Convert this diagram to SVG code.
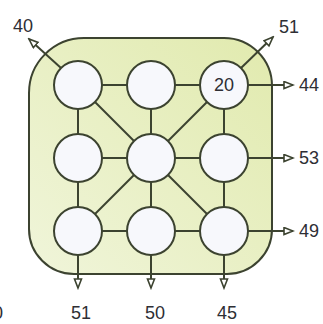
<svg xmlns="http://www.w3.org/2000/svg" width="323" height="324" viewBox="0 0 323 324">
  <style>
    .edge { stroke: #3c4330; stroke-width: 2; fill: none; }
    .node { fill: #f7f8fc; stroke: #3c4330; stroke-width: 2; }
    .lbl { font-family: "Liberation Sans", Arial, sans-serif; font-size: 18px; fill: #2e2e34; }
  </style>
  <defs>
    <linearGradient id="bg" x1="1" y1="0" x2="0" y2="1">
      <stop offset="0" stop-color="#e1eaae"/>
      <stop offset="1" stop-color="#f0f5da"/>
    </linearGradient>
    <marker id="arr" markerUnits="userSpaceOnUse" markerWidth="12" markerHeight="10" refX="10" refY="4.5" orient="auto">
      <path d="M1,1 L10,4.5 L1,8 Z" fill="#ffffff" stroke="#3c4330" stroke-width="1.6"/>
    </marker>
  </defs>
  <rect width="323" height="324" fill="#ffffff"/>
  <g id="frame">
    <path d="M 84,38 H 224 A 48 48 0 0 1 272 86 V 229 A 45 45 0 0 1 227 274 H 74 A 45 45 0 0 1 29 229 V 93 A 55 55 0 0 1 84 38 Z" fill="url(#bg)" stroke="#3c4330" stroke-width="2"/>
  </g>
  <g id="connectors">
    <line class="edge" x1="78" y1="85" x2="224" y2="85"/>
    <line class="edge" x1="78" y1="158" x2="224" y2="158"/>
    <line class="edge" x1="78" y1="231" x2="224" y2="231"/>
    <line class="edge" x1="78" y1="85" x2="78" y2="231"/>
    <line class="edge" x1="151" y1="85" x2="151" y2="231"/>
    <line class="edge" x1="224" y1="85" x2="224" y2="231"/>
    <line class="edge" x1="78" y1="85" x2="224" y2="231"/>
    <line class="edge" x1="224" y1="85" x2="78" y2="231"/>
    <line class="edge" x1="61" y1="68" x2="29" y2="39" marker-end="url(#arr)"/>
    <line class="edge" x1="241" y1="68" x2="273" y2="37" marker-end="url(#arr)"/>
    <line class="edge" x1="248" y1="85" x2="293" y2="85" marker-end="url(#arr)"/>
    <line class="edge" x1="248" y1="158" x2="293" y2="158" marker-end="url(#arr)"/>
    <line class="edge" x1="248" y1="231" x2="293" y2="231" marker-end="url(#arr)"/>
    <line class="edge" x1="78" y1="255" x2="78" y2="288" marker-end="url(#arr)"/>
    <line class="edge" x1="151" y1="255" x2="151" y2="288" marker-end="url(#arr)"/>
    <line class="edge" x1="224" y1="255" x2="224" y2="288" marker-end="url(#arr)"/>
  </g>
  <g id="n11"><circle class="node" cx="78" cy="85" r="24"/></g>
  <g id="n12"><circle class="node" cx="151" cy="85" r="24"/></g>
  <g id="n13"><circle class="node" cx="224" cy="85" r="24"/><text class="lbl" x="224" y="91" text-anchor="middle">20</text></g>
  <g id="n21"><circle class="node" cx="78" cy="158" r="24"/></g>
  <g id="n22"><circle class="node" cx="151" cy="158" r="24"/></g>
  <g id="n23"><circle class="node" cx="224" cy="158" r="24"/></g>
  <g id="n31"><circle class="node" cx="78" cy="231" r="24"/></g>
  <g id="n32"><circle class="node" cx="151" cy="231" r="24"/></g>
  <g id="n33"><circle class="node" cx="224" cy="231" r="24"/></g>
  <g id="labels">
    <text class="lbl" x="23" y="32" text-anchor="middle">40</text>
    <text class="lbl" x="289" y="33" text-anchor="middle">51</text>
    <text class="lbl" x="299" y="91">44</text>
    <text class="lbl" x="299" y="164">53</text>
    <text class="lbl" x="299" y="237">49</text>
    <text class="lbl" x="81" y="319" text-anchor="middle">51</text>
    <text class="lbl" x="155" y="319" text-anchor="middle">50</text>
    <text class="lbl" x="227" y="319" text-anchor="middle">45</text>
    <text class="lbl" x="3" y="319" text-anchor="end">0</text>
  </g>
</svg>
